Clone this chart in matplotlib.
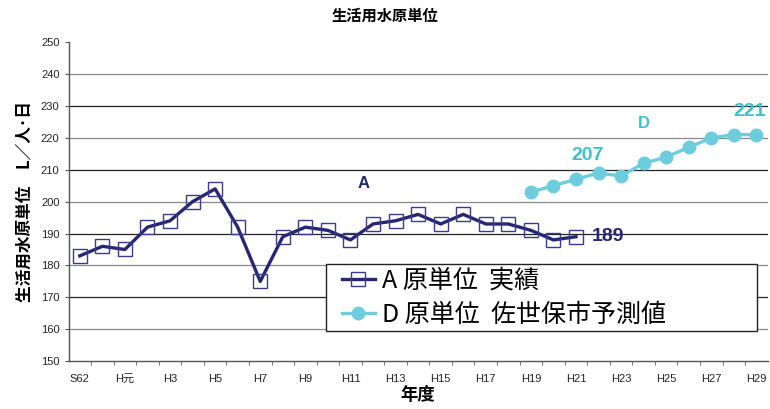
import numpy as np
import matplotlib.pyplot as plt
from matplotlib.legend_handler import HandlerLine2D

plt.rcParams['font.family'] = ['Liberation Sans', 'Noto Sans CJK JP', 'DejaVu Sans']

years = ['S62', 'S63', 'H元', 'H2', 'H3', 'H4', 'H5', 'H6', 'H7', 'H8', 'H9', 'H10',
         'H11', 'H12', 'H13', 'H14', 'H15', 'H16', 'H17', 'H18', 'H19', 'H20', 'H21',
         'H22', 'H23', 'H24', 'H25', 'H26', 'H27', 'H28', 'H29']
# A 実績 : S62 - H21
a_vals = [183, 186, 185, 192, 194, 200, 204, 192, 175, 189, 192, 191,
          188, 193, 194, 196, 193, 196, 193, 193, 191, 188, 189]
# D 佐世保市予測値 : H19 - H29
d_start = 'H19'
d_vals = [203, 205, 207, 209, 208, 212, 214, 217, 220, 221, 221]

navy = '#262672'
cyan = '#6ecddc'
teal = '#3fc0c8'
jp = ['Noto Sans CJK JP', 'DejaVu Sans']

x = np.arange(len(years))
xa = x[:len(a_vals)]
i0 = years.index(d_start)
xd = x[i0:i0 + len(d_vals)]

fig = plt.figure(figsize=(7.7, 4.09), dpi=100)
ax = fig.add_axes([0.089, 0.117, 0.908, 0.78])

ax.set_ylim(150, 250)
ax.set_xlim(-0.5, len(years) - 0.5)
yt = np.arange(150, 251, 10)
ax.set_yticks(yt)
for k, v in enumerate(yt[1:-1]):
    ax.axhline(v, color='#222222' if k % 2 else '#888888', lw=0.9, zorder=0)

la, = ax.plot(xa, a_vals, color=navy, lw=2.4, marker='s', ms=10, mfc='none',
              mec='#3b3b8c', mew=1.0, label='A 原単位  実績', zorder=3)
ld, = ax.plot(xd, d_vals, color=cyan, lw=2.4, marker='o', ms=9, mfc=cyan, mec=cyan,
              label='D 原単位  佐世保市予測値', zorder=3)

ax.set_xticks(x[::2])
ax.set_xticklabels(years[::2], fontsize=8, color='#222222')
ax.set_xticks(x[:-1] + 0.5, minor=True)
ax.tick_params(axis='x', which='major', length=0, pad=9)
ax.tick_params(axis='x', which='minor', length=3, color='#555555')
ax.tick_params(axis='y', length=3, labelsize=8, labelcolor='#222222', color='#555555')

for s in ['top', 'right']:
    ax.spines[s].set_visible(False)
for s in ['left', 'bottom']:
    ax.spines[s].set_color('#555555')
    ax.spines[s].set_linewidth(1.0)

# annotations
ax.annotate(str(a_vals[-1]), (xa[-1], a_vals[-1]), xytext=(11, 0), textcoords='offset points',
            ha='left', va='center', fontsize=14, fontweight='bold', color=navy)
ax.annotate(str(d_vals[2]), (xd[2], d_vals[2]), xytext=(8, 11), textcoords='offset points',
            ha='center', va='bottom', fontsize=14, fontweight='bold', color=teal)
ax.annotate(str(d_vals[-1]), (xd[-1], d_vals[-1]), xytext=(-5, 10.5), textcoords='offset points',
            ha='center', va='bottom', fontsize=14, fontweight='bold', color=teal)
ax.text(25.0, 224.5, 'D', ha='center', va='center', fontsize=12, fontweight='bold', color=teal)
ax.text(12.6, 205.6, 'A', ha='center', va='center', fontsize=12, fontweight='bold', color=navy)

hm = {la: HandlerLine2D(xpad=0.5), ld: HandlerLine2D(xpad=0.5)}
leg = ax.legend(loc='lower left', bbox_to_anchor=(0.368, 0.094, 0.616, 0.2), mode='expand',
                prop={'family': jp, 'size': 18}, handler_map=hm,
                frameon=True, fancybox=False, edgecolor='#222222', handlelength=1.8,
                borderpad=0.15, labelspacing=0.3, handletextpad=0.3, borderaxespad=0)
leg.get_frame().set_linewidth(1.0)
leg.get_frame().set_alpha(1)

fig.text(0.5, 0.962, '生活用水原単位', ha='center', va='center', fontsize=11,
         fontweight='bold', family=jp)
ax.set_xlabel('年度', fontsize=12.5, fontweight='bold', family=jp, labelpad=2)
ax.set_ylabel('生活用水原単位　L／人･日', fontsize=12, fontweight='bold', family=jp, labelpad=5)

fig.savefig('out.png', dpi=100)
